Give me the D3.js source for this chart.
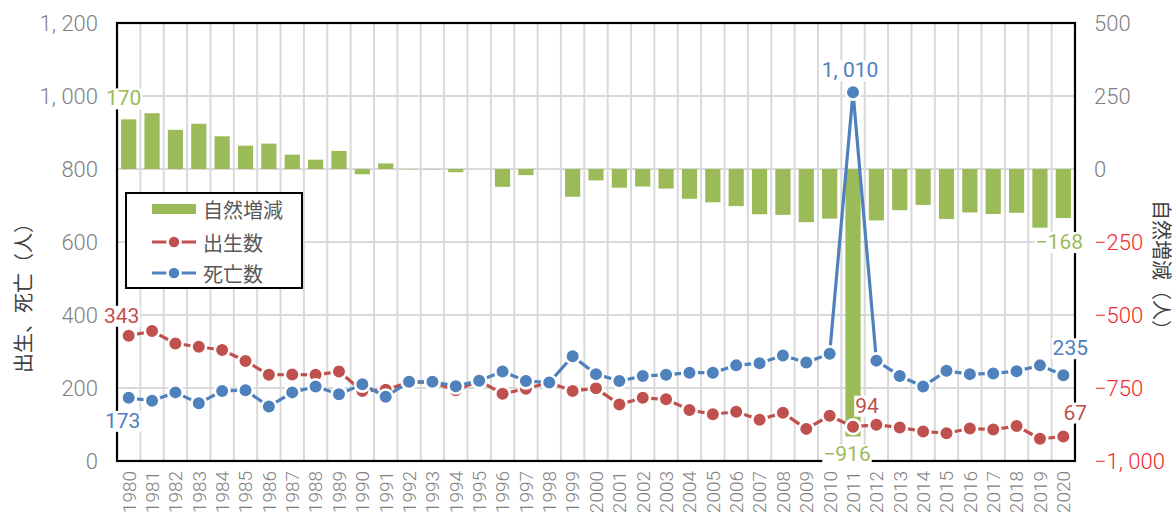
<!DOCTYPE html>
<html>
<head>
<meta charset="utf-8">
<script src="https://cdn.jsdelivr.net/npm/d3@7"></script>
<style>
  html, body { margin: 0; padding: 0; background: #ffffff; }
  svg { display: block; }
</style>
</head>
<body>
<svg id="chart" width="1175" height="518"></svg>
<script>
// ---- data ----
const years = d3.range(1980, 2021).map(String);

// 出生数 (births per year)
const births = [
  343, 356, 322, 313, 304, 274, 236, 237, 236, 245,
  192, 195, 216, 216, 194, 220, 184, 198, 215, 192,
  199, 155, 173, 169, 140, 128, 135, 113, 132, 88,
  124, 94, 99, 92, 81, 76, 89, 86, 96, 61,
  67
];

// 死亡数 (deaths per year)
const deaths = [
  173, 165, 188, 158, 192, 194, 149, 188, 204, 183,
  210, 176, 217, 217, 205, 220, 245, 219, 215, 287,
  238, 219, 233, 236, 242, 242, 262, 268, 289, 270,
  294, 1010, 275, 233, 204, 247, 238, 240, 246, 262,
  235
];

// 自然増減 = births - deaths
const naturalChange = births.map((b, i) => b - deaths[i]);

const leftTicks = [0, 200, 400, 600, 800, 1000, 1200];
const rightTicks = [-1000, -750, -500, -250, 0, 250, 500];

const seriesNames = ["自然増減", "出生数", "死亡数"];
const leftTitle = "出生、死亡（人）";
const rightTitle = "自然増減（人）";

// ---- styling ----
const C = {
  bar: "#9bbb59",
  birth: "#c0504d",
  death: "#4f81bd",
  grid: "#d9d9d9",
  tick: "#7f7f7f",
  neg: "#f0282d",
  text: "#595959"
};
const NUM_FONT = "Roboto, 'Liberation Sans', Arial, sans-serif";
const JP_FONT = "'Noto Sans CJK JP', 'Noto Sans CJK SC', sans-serif";

const plot = { left: 117, right: 1075, top: 23, bottom: 461 };

const svg = d3.select("#chart");

const x = d3.scaleBand().domain(years).range([plot.left, plot.right]).padding(0);
const yL = d3.scaleLinear().domain([0, 1200]).range([plot.bottom, plot.top]);
const yR = d3.scaleLinear().domain([-1000, 500]).range([plot.bottom, plot.top]);
const cx = y => x(y) + x.bandwidth() / 2;

// number format with the wide comma look: 1, 200
const fmt = v => {
  const s = d3.format(",")(Math.abs(v)).replace(/,/g, ", ");
  return (v < 0 ? "\u2212" : "") + s;
};

// ---- gridlines ----
const grid = svg.append("g");
grid.selectAll("line.h")
  .data(leftTicks.filter(t => t > 0 && t < 1200))
  .join("line")
  .attr("x1", plot.left).attr("x2", plot.right)
  .attr("y1", d => yL(d)).attr("y2", d => yL(d))
  .attr("stroke", C.grid).attr("stroke-width", 2);
grid.selectAll("line.v")
  .data(years.slice(1))
  .join("line")
  .attr("x1", d => x(d)).attr("x2", d => x(d))
  .attr("y1", plot.top).attr("y2", plot.bottom)
  .attr("stroke", C.grid).attr("stroke-width", 2);

// ---- bars: 自然増減 on the right axis ----
const barW = x.bandwidth() * 0.65;
svg.append("g").selectAll("rect")
  .data(years)
  .join("rect")
  .attr("x", d => cx(d) - barW / 2)
  .attr("width", barW)
  .attr("y", (d, i) => yR(Math.max(0, naturalChange[i])))
  .attr("height", (d, i) => Math.abs(yR(naturalChange[i]) - yR(0)))
  .attr("fill", C.bar);

// ---- frame ----
svg.append("rect")
  .attr("x", plot.left).attr("y", plot.top)
  .attr("width", plot.right - plot.left).attr("height", plot.bottom - plot.top)
  .attr("fill", "none").attr("stroke", "#000").attr("stroke-width", 2.2);

// ---- lines with white-ringed markers ----
function drawSeries(values, color) {
  const line = d3.line().x((d, i) => cx(years[i])).y(d => yL(d));
  const g = svg.append("g");
  g.append("path")
    .datum(values)
    .attr("d", line)
    .attr("fill", "none")
    .attr("stroke", color)
    .attr("stroke-width", 3.2)
    .attr("stroke-linejoin", "round");
  g.selectAll("circle")
    .data(values)
    .join("circle")
    .attr("cx", (d, i) => cx(years[i]))
    .attr("cy", d => yL(d))
    .attr("r", 7.3)
    .attr("fill", color)
    .attr("stroke", "#fff")
    .attr("stroke-width", 2.6);
}
drawSeries(births, C.birth);
drawSeries(deaths, C.death);

// ---- axes ----
const axL = svg.append("g")
  .attr("transform", `translate(${plot.left},0)`)
  .call(d3.axisLeft(yL).tickValues(leftTicks).tickSize(0).tickPadding(19).tickFormat(fmt));
axL.select(".domain").remove();
axL.selectAll("text")
  .attr("fill", C.tick)
  .style("font-family", NUM_FONT).style("font-size", "22px").style("font-weight", 300);

const axR = svg.append("g")
  .attr("transform", `translate(${plot.right},0)`)
  .call(d3.axisRight(yR).tickValues(rightTicks).tickSize(0).tickPadding(19).tickFormat(fmt));
axR.select(".domain").remove();
axR.selectAll("text")
  .attr("fill", d => d < 0 ? C.neg : C.tick)
  .style("font-family", NUM_FONT).style("font-size", "22px").style("font-weight", 300);

const axB = svg.append("g")
  .attr("transform", `translate(0,${plot.bottom})`)
  .call(d3.axisBottom(x).tickSize(0));
axB.select(".domain").remove();
axB.selectAll("text")
  .attr("y", 0).attr("x", -10).attr("dy", "0.36em")
  .attr("transform", "rotate(-90)")
  .style("text-anchor", "end")
  .attr("fill", C.tick)
  .style("font-family", NUM_FONT).style("font-size", "19px").style("font-weight", 300);

// ---- axis titles ----
svg.append("text")
  .attr("transform", "translate(22,293) rotate(-90)")
  .attr("text-anchor", "middle").attr("dominant-baseline", "central")
  .attr("fill", "#404040")
  .style("font-family", JP_FONT).style("font-size", "20px")
  .text(leftTitle);
svg.append("text")
  .attr("transform", "translate(1162,270) rotate(90)")
  .attr("text-anchor", "middle").attr("dominant-baseline", "central")
  .attr("fill", "#404040")
  .style("font-family", JP_FONT).style("font-size", "20px")
  .text(rightTitle);

// ---- data labels (white backed) ----
function label(px, py, text, color) {
  const g = svg.append("g");
  const t = g.append("text")
    .attr("x", px).attr("y", py)
    .attr("text-anchor", "middle").attr("dominant-baseline", "central")
    .attr("fill", color)
    .style("font-family", NUM_FONT).style("font-size", "21px").style("font-weight", 400)
    .text(text);
  const bb = t.node().getBBox();
  g.insert("rect", "text")
    .attr("x", bb.x - 1).attr("y", bb.y + 2)
    .attr("width", bb.width + 2).attr("height", bb.height - 3)
    .attr("fill", "#fff");
}
const idx = y => years.indexOf(String(y));
const barEnd = y => yR(naturalChange[idx(y)]);

[
  { year: 1980, kind: "bar",   dx: -5, dy: -21 },
  { year: 1980, kind: "birth", dx: -7, dy: -20 },
  { year: 1980, kind: "death", dx: -6, dy: 23 },
  { year: 2011, kind: "death", dx: -3, dy: -22 },
  { year: 2011, kind: "birth", dx: 14, dy: -21 },
  { year: 2011, kind: "bar",   dx: -6, dy: 18 },
  { year: 2020, kind: "bar",   dx: -4, dy: 24 },
  { year: 2020, kind: "death", dx: 7, dy: -27 },
  { year: 2020, kind: "birth", dx: 12, dy: -24 }
].forEach(a => {
  const i = idx(a.year);
  const px = cx(years[i]) + a.dx;
  if (a.kind === "bar") label(px, barEnd(a.year) + a.dy, fmt(naturalChange[i]), C.bar);
  if (a.kind === "birth") label(px, yL(births[i]) + a.dy, fmt(births[i]), C.birth);
  if (a.kind === "death") label(px, yL(deaths[i]) + a.dy, fmt(deaths[i]), C.death);
});

// ---- legend ----
const lg = svg.append("g");
lg.append("rect")
  .attr("x", 126).attr("y", 193).attr("width", 176).attr("height", 95)
  .attr("fill", "#fff").attr("stroke", "#000").attr("stroke-width", 2);
const rows = [209, 242, 273];
lg.append("rect").attr("x", 152).attr("y", rows[0] - 5).attr("width", 44).attr("height", 10).attr("fill", C.bar);
[[C.birth, rows[1]], [C.death, rows[2]]].forEach(([col, yy]) => {
  lg.append("line").attr("x1", 152).attr("x2", 196).attr("y1", yy).attr("y2", yy)
    .attr("stroke", col).attr("stroke-width", 3.2);
  lg.append("circle").attr("cx", 174).attr("cy", yy).attr("r", 6.5)
    .attr("fill", col).attr("stroke", "#fff").attr("stroke-width", 2.6);
});
seriesNames.forEach((n, i) => {
  lg.append("text")
    .attr("x", 203).attr("y", rows[i])
    .attr("dominant-baseline", "central")
    .attr("fill", C.text)
    .style("font-family", JP_FONT).style("font-size", "20px")
    .text(n);
});
</script>
</body>
</html>
